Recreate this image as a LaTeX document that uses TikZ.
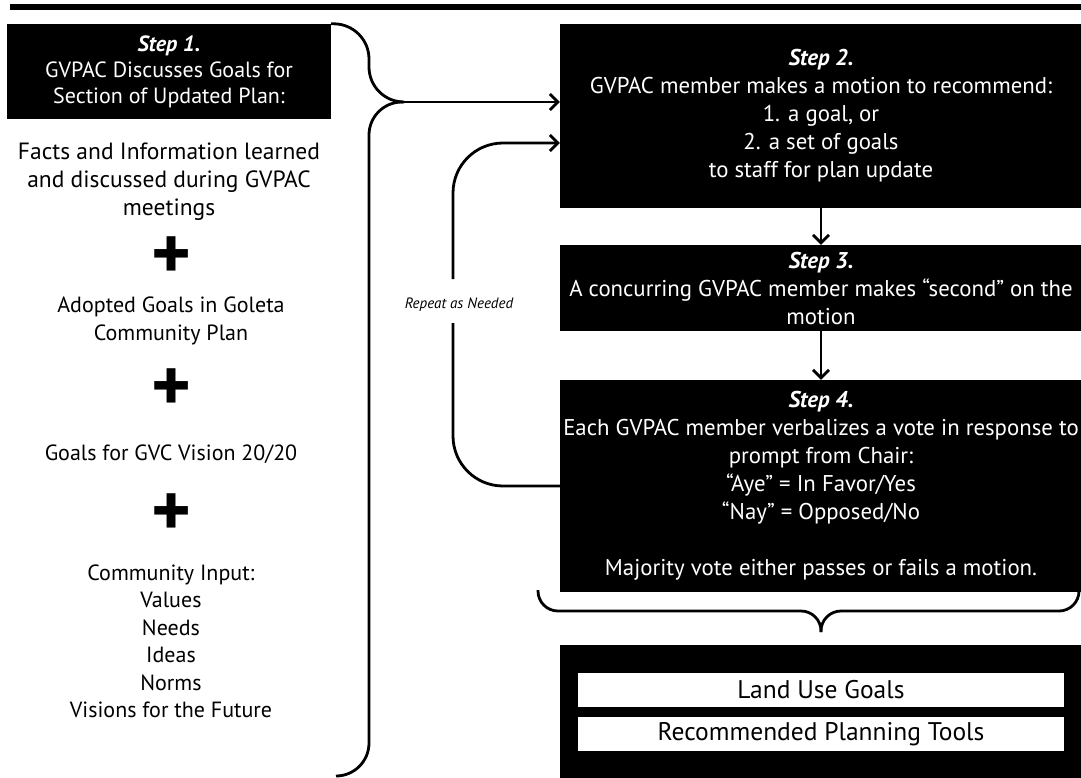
\documentclass[tikz,border=0pt]{standalone}
\usepackage{fontspec}
\setmainfont{PT Sans}
\usetikzlibrary{arrows.meta,calc}
\newcommand{\stp}[1]{\textbf{\textit{#1}}}
\begin{document}
\begin{tikzpicture}[x=1pt,y=-1pt,
  line/.style={line width=2.8pt},
  arr/.style={line width=2.8pt,-{Straight Barb[length=8pt,width=16pt]}},
  blk/.style={fill=black,text=white,align=center,inner sep=0pt,minimum width=522pt,font=\fontsize{22.8}{28}\selectfont},
  lft/.style={align=center,inner sep=0pt,font=\fontsize{22}{27.5}\selectfont},
  plus/.style={inner sep=0pt,font=\fontsize{76}{76}\selectfont\bfseries},
  wbox/.style={fill=white,text=black,inner sep=0pt,minimum width=486pt,minimum height=34pt,font=\fontsize{25.5}{28}\selectfont},
  rept/.style={inner sep=0pt,font=\fontsize{15}{17}\selectfont\itshape}
]
\useasboundingbox (0,0) rectangle (1081,777);
\draw[line width=6pt] (10,7) -- (1081,7);
% step boxes
\node[blk, minimum width=324pt, minimum height=95pt, font=\fontsize{22}{26}\selectfont] (s1) at (169,71.5)
  {\stp{Step 1.}\\GVPAC Discusses Goals for\\Section of Updated Plan:};
\node[blk, minimum height=184pt] (s2) at (821,116)
  {\stp{Step 2.}\\GVPAC member makes a motion to recommend:\\1. a goal, or\\2. a set of goals\\to staff for plan update};
\node[blk, minimum height=86pt] (s3) at (821,288)
  {\stp{Step 3.}\\A concurring GVPAC member makes “second” on the\\motion};
\node[blk, minimum height=212pt] (s4) at (821,486)
  {\stp{Step 4.}\\Each GVPAC member verbalizes a vote in response to\\prompt from Chair:\\“Aye” = In Favor/Yes\\“Nay” = Opposed/No\\[28pt]Majority vote either passes or fails a motion.};
\node[blk, minimum height=134pt] (res) at (821,712) {};
\node[wbox] (g1) at (821,690) {Land Use Goals};
\node[wbox] (g2) at (821,734) {Recommended Planning Tools};
% left column
\node[lft, font=\fontsize{23.5}{28}\selectfont] (facts) at (169,182) {Facts and Information learned\\and discussed during GVPAC\\meetings};
\node[plus] (p1) at (172,258) {+};
\node[lft] (adopt) at (171,321) {Adopted Goals in Goleta\\Community Plan};
\node[plus] (p2) at (172,390) {+};
\node[lft] (gvc) at (171,454) {Goals for GVC Vision 20/20};
\node[plus] (p3) at (172,515) {+};
\node[lft] (ci) at (171,641.5) {Community Input:\\Values\\Needs\\Ideas\\Norms\\Visions for the Future};
% left brace and arrow into step 2
\coordinate (tip) at (403,102);
\draw[line, rounded corners=35pt] (s1.north east) -- (369,24) -- (369,102) -- (tip);
\draw[line, rounded corners=33pt] (tip) -- (369,102) -- (369,776) -- (336,776);
\draw[arr] (tip) -- (tip -| s2.west);
% step arrows
\draw[arr] (s2) -- (s3);
\draw[arr] (s3) -- (s4);
% repeat loop
\node[rept] (rep) at (459,305) {Repeat as Needed};
\coordinate (gt) at (453,279);
\coordinate (gb) at (453,323);
\coordinate (a2) at ($(s2.west)+(0,27)$);
\draw[line, rounded corners=50pt] (s4.west) -- (s4.west -| gb) -- (gb);
\draw[arr, rounded corners=50pt] (gt) -- (gt |- a2) -- (a2);
% brace under step 4
\coordinate (bl) at (538,590);
\coordinate (br) at (1079,590);
\coordinate (bt) at (821,632);
\draw[line, rounded corners=20pt] (bl) -- (538,611) -- (821,611) -- (bt);
\draw[line, rounded corners=20pt] (bt) -- (821,611) -- (1079,611) -- (br);
\end{tikzpicture}
\end{document}
